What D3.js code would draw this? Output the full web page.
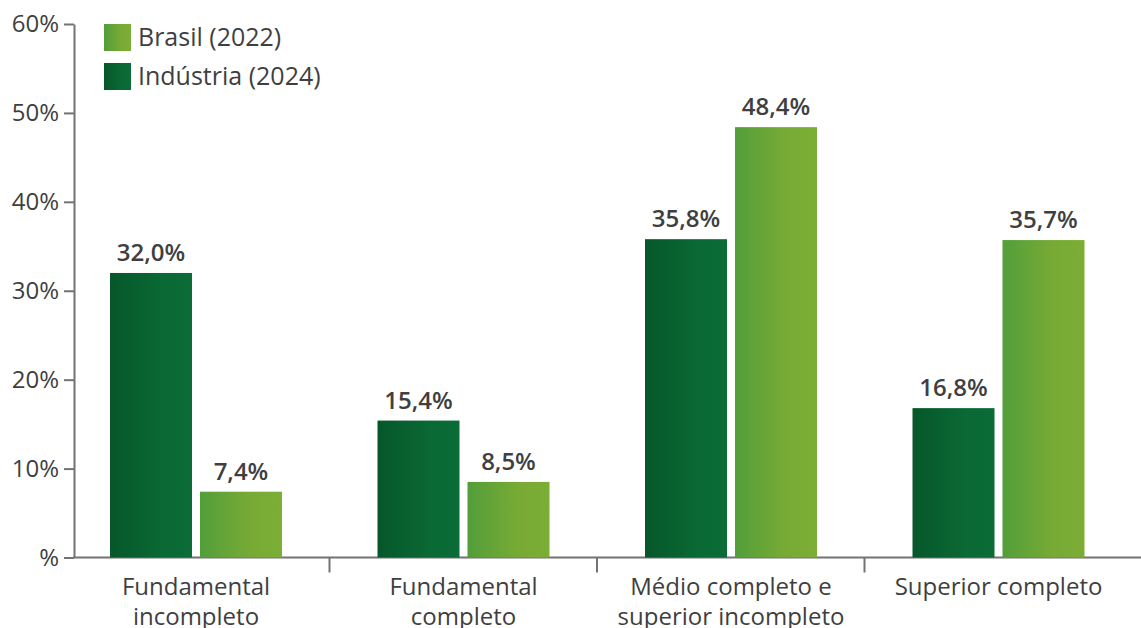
<!DOCTYPE html>
<html>
<head>
<meta charset="utf-8">
<script src="https://cdn.jsdelivr.net/npm/d3@7"></script>
<style>
  html, body { margin: 0; padding: 0; background: #fff; }
  svg { display: block; font-family: 'Open Sans', 'Noto Sans', sans-serif; }
</style>
</head>
<body>
<svg id="chart" width="1141" height="628"></svg>
<script>
'use strict';

// ── Data ───────────────────────────────────────────────────────────────────
const categories = [
  'Fundamental incompleto',
  'Fundamental completo',
  'Médio completo e superior incompleto',
  'Superior completo'
];
const categoryLines = [
  ['Fundamental', 'incompleto'],
  ['Fundamental', 'completo'],
  ['Médio completo e', 'superior incompleto'],
  ['Superior completo']
];
const series     = ['Indústria (2024)', 'Brasil (2022)'];
const industria  = [32.0, 15.4, 35.8, 16.8];
const brasil     = [7.4, 8.5, 48.4, 35.7];
const yTicks     = [0, 10, 20, 30, 40, 50, 60];
const legendOrder = ['Brasil (2022)', 'Indústria (2024)'];

const values = { 'Indústria (2024)': industria, 'Brasil (2022)': brasil };
const GRAD   = { 'Indústria (2024)': 'gradDark', 'Brasil (2022)': 'gradLight' };

const TEXT = '#3f3f3f';
const AXIS = '#737373';

const svg = d3.select('#chart');
const W = 1141;

// ── Gradients ──────────────────────────────────────────────────────────────
const defs = svg.append('defs');
function addGrad(id, stops) {
  const g = defs.append('linearGradient').attr('id', id)
    .attr('x1', '0%').attr('x2', '100%').attr('y1', '0%').attr('y2', '0%');
  stops.forEach(([o, c]) => g.append('stop').attr('offset', o).attr('stop-color', c));
}
addGrad('gradDark',  [['0%', '#06572a'], ['65%', '#0a6935'], ['100%', '#0a6c38']]);
addGrad('gradLight', [['0%', '#529e3a'], ['60%', '#77aa35'], ['100%', '#7cae35']]);

// ── Scales ─────────────────────────────────────────────────────────────────
const x0 = d3.scaleBand().domain(categories).range([62, 1132]).padding(0);
const x1 = d3.scaleBand().domain(series)
  .range([48, 220]).paddingInner(8 / 90).paddingOuter(0);
const y = d3.scaleLinear().domain([0, 60]).range([557.5, 24]);

// ── Y axis ─────────────────────────────────────────────────────────────────
const yAxis = svg.append('g')
  .attr('transform', 'translate(74,0)')
  .call(d3.axisLeft(y).tickValues(yTicks).tickSize(10).tickPadding(5)
    .tickSizeOuter(0)
    .tickFormat(d => d === 0 ? '%' : d + '%'));
yAxis.select('.domain').attr('stroke', AXIS).attr('stroke-width', 2);
yAxis.selectAll('.tick line').attr('stroke', AXIS).attr('stroke-width', 2);
yAxis.selectAll('.tick text')
  .attr('fill', TEXT).attr('font-size', '24px').attr('font-family', "'Open Sans', sans-serif");

// ── X axis baseline and separators ─────────────────────────────────────────
svg.append('line')
  .attr('x1', 73).attr('x2', W)
  .attr('y1', y(0)).attr('y2', y(0))
  .attr('stroke', AXIS).attr('stroke-width', 2);

svg.selectAll('.sep')
  .data(categories.slice(1))
  .join('line')
  .attr('class', 'sep')
  .attr('x1', d => x0(d)).attr('x2', d => x0(d))
  .attr('y1', y(0)).attr('y2', y(0) + 15)
  .attr('stroke', AXIS).attr('stroke-width', 2);

// ── Bars ───────────────────────────────────────────────────────────────────
const groups = svg.selectAll('.grp')
  .data(categories)
  .join('g')
  .attr('class', 'grp')
  .attr('transform', d => `translate(${x0(d)},0)`);

const barData = (c, i) => series.map(s => ({ s, v: values[s][i] }));

groups.selectAll('rect')
  .data(barData)
  .join('rect')
  .attr('x', d => x1(d.s))
  .attr('y', d => y(d.v))
  .attr('width', x1.bandwidth())
  .attr('height', d => y(0) - y(d.v))
  .attr('fill', d => `url(#${GRAD[d.s]})`);

groups.selectAll('.val')
  .data(barData)
  .join('text')
  .attr('class', 'val')
  .attr('x', d => x1(d.s) + x1.bandwidth() / 2)
  .attr('y', d => y(d.v) - 12)
  .attr('text-anchor', 'middle')
  .attr('fill', TEXT)
  .attr('font-size', '24px')
  .attr('font-weight', 600)
  .text(d => d.v.toFixed(1).replace('.', ',') + '%');

// ── Category labels ────────────────────────────────────────────────────────
groups.each(function (c, i) {
  const t = d3.select(this).append('text')
    .attr('text-anchor', 'middle')
    .attr('fill', TEXT)
    .attr('font-size', '24px');
  categoryLines[i].forEach((line, k) => {
    t.append('tspan')
      .attr('x', x1.range()[0] + (x1.range()[1] - x1.range()[0]) / 2)
      .attr('y', 595 + k * 30)
      .text(line);
  });
});

// ── Legend ─────────────────────────────────────────────────────────────────
const legend = svg.append('g').attr('transform', 'translate(104,24)');
const li = legend.selectAll('g')
  .data(legendOrder)
  .join('g')
  .attr('transform', (d, i) => `translate(0,${i * 39})`);
li.append('rect')
  .attr('width', 27).attr('height', 27)
  .attr('fill', d => `url(#${GRAD[d]})`);
li.append('text')
  .attr('x', 34).attr('y', 22)
  .attr('fill', TEXT)
  .attr('font-size', '25px')
  .text(d => d);
</script>
</body>
</html>
